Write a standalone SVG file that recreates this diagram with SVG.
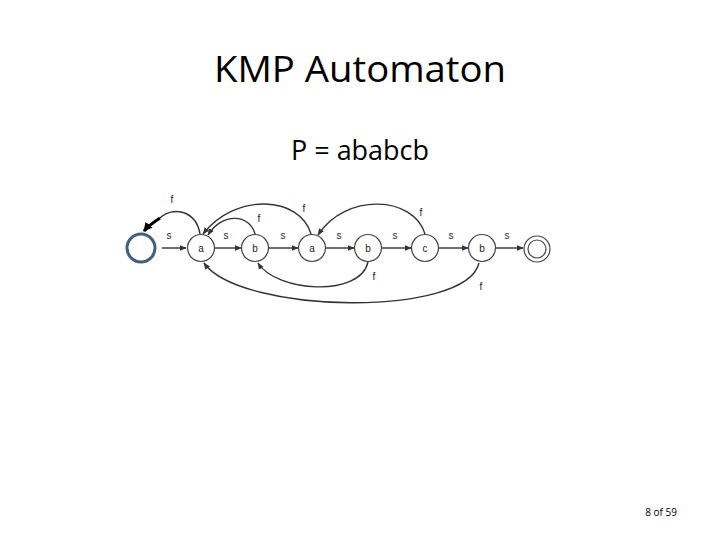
<svg xmlns="http://www.w3.org/2000/svg" width="720" height="540" viewBox="0 0 720 540">
<style>
.t{font-family:"Open Sans","Liberation Sans",sans-serif;fill:#000}
.lbl{font-family:"Liberation Sans",Arial,sans-serif;font-size:10px;fill:#222;text-anchor:middle}
.n{fill:#fff;stroke:#444;stroke-width:1.2}
.e{fill:none;stroke:#333;stroke-width:1.4}
</style>
<defs>
<marker id="ah" viewBox="0 0 10 10" refX="9" refY="5" markerWidth="7" markerHeight="7" orient="auto" markerUnits="userSpaceOnUse">
<path d="M0,1 L10,5 L0,9 z" fill="#333"/>
</marker>
<marker id="ahb" viewBox="0 0 10 10" refX="9" refY="5" markerWidth="9" markerHeight="9" orient="auto" markerUnits="userSpaceOnUse">
<path d="M0,0 L10,5 L0,10 z" fill="#000"/>
</marker>
</defs>
<rect width="720" height="540" fill="#fff"/>
<text class="t" x="214" y="82" font-size="36" textLength="292" lengthAdjust="spacingAndGlyphs">KMP Automaton</text>
<text class="t" x="291" y="160" font-size="27" textLength="138" lengthAdjust="spacingAndGlyphs">P = ababcb</text>
<text class="t" x="677" y="516" font-size="10" text-anchor="end">8 of 59</text>

<g id="connectors">
<path class="e" d="M162,248 L186,248" marker-end="url(#ah)"/>
<path class="e" d="M215,248 L241,248" marker-end="url(#ah)"/>
<path class="e" d="M269,248 L298,248" marker-end="url(#ah)"/>
<path class="e" d="M326,248 L354,248" marker-end="url(#ah)"/>
<path class="e" d="M382,248 L411,248" marker-end="url(#ah)"/>
<path class="e" d="M439,248 L468,248" marker-end="url(#ah)"/>
<path class="e" d="M496,248 L523,248" marker-end="url(#ah)"/>
<path class="e" d="M200,234 C196,210 172,206 160,218" />
<path d="M160,218 C154,222 148,226 144,231" fill="none" stroke="#000" stroke-width="3" marker-end="url(#ahb)"/>
<path class="e" d="M255,234 C250,214 222,212 208,235" marker-end="url(#ah)"/>
<path class="e" d="M311,234 C300,196 236,192 203,234" marker-end="url(#ah)"/>
<path class="e" d="M425,234 C414,196 346,192 318,235" marker-end="url(#ah)"/>
<path class="e" d="M368,262 C360,298 276,292 258,263" marker-end="url(#ah)"/>
<path class="e" d="M479,263 C466,318 240,314 204,263" marker-end="url(#ah)"/>
</g>

<g id="labels">
<text class="lbl" x="169" y="239">s</text>
<text class="lbl" x="226" y="239">s</text>
<text class="lbl" x="283" y="239">s</text>
<text class="lbl" x="339" y="239">s</text>
<text class="lbl" x="395" y="239">s</text>
<text class="lbl" x="451" y="239">s</text>
<text class="lbl" x="507" y="239">s</text>
<text class="lbl" x="172" y="203">f</text>
<text class="lbl" x="259" y="222">f</text>
<text class="lbl" x="304" y="212">f</text>
<text class="lbl" x="421" y="216">f</text>
<text class="lbl" x="374" y="280">f</text>
<text class="lbl" x="481" y="290">f</text>
</g>

<g id="start"><circle cx="141" cy="248" r="14" fill="#fff" stroke="#41607f" stroke-width="3"/></g>
<g id="n1"><circle class="n" cx="201" cy="248" r="13.5"/><text class="lbl" x="201" y="252">a</text></g>
<g id="n2"><circle class="n" cx="255" cy="248" r="13.5"/><text class="lbl" x="255" y="252">b</text></g>
<g id="n3"><circle class="n" cx="312" cy="248" r="13.5"/><text class="lbl" x="312" y="252">a</text></g>
<g id="n4"><circle class="n" cx="368" cy="248" r="13.5"/><text class="lbl" x="368" y="252">b</text></g>
<g id="n5"><circle class="n" cx="425" cy="248" r="13.5"/><text class="lbl" x="425" y="252">c</text></g>
<g id="n6"><circle class="n" cx="482" cy="248" r="13.5"/><text class="lbl" x="482" y="252">b</text></g>
<g id="final"><circle class="n" cx="537" cy="249" r="13"/><circle class="n" cx="537" cy="249" r="9"/></g>
</svg>
